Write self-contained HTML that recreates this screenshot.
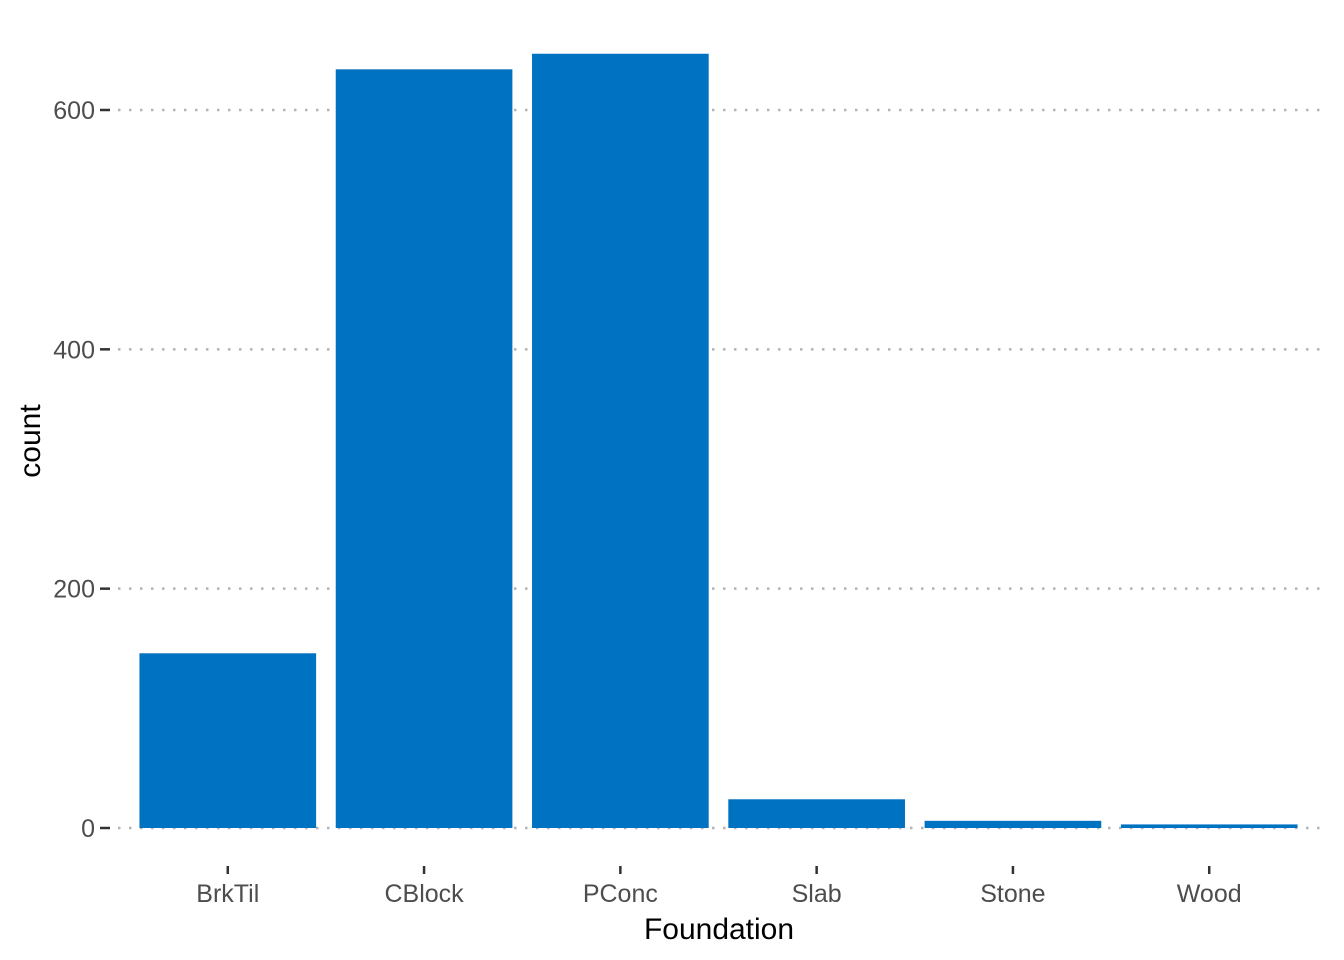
<!DOCTYPE html>
<html><head><meta charset="utf-8"><style>
body{margin:0;background:#fff}
svg{display:block;font-family:"Liberation Sans",Arial,sans-serif}
</style></head><body>
<svg id="chart" width="1344" height="960">
<g id="grid"></g>
<g id="bars"></g>
<g id="yaxis"></g>
<g id="xaxis"></g>
<text x="719" y="939" text-anchor="middle" font-size="30" fill="#000">Foundation</text>
<text transform="translate(40,441) rotate(-90)" text-anchor="middle" font-size="30" fill="#000">count</text>
</svg>
<script>
const categories = ["BrkTil","CBlock","PConc","Slab","Stone","Wood"];
const counts = [146,634,647,24,6,3];
const yTicks = [0,200,400,600];

const NS="http://www.w3.org/2000/svg";
const left=110,right=1327,y0=828,pxPerUnit=718/600;
const step=(right-left)/(categories.length+0.2);
const xc=i=>left+step*(i+0.6);
const ys=v=>y0-v*pxPerUnit;
function mk(tag,attrs,parent){const e=document.createElementNS(NS,tag);for(const k in attrs)e.setAttribute(k,attrs[k]);parent.appendChild(e);return e;}
const grid=document.getElementById('grid'),bars=document.getElementById('bars'),ya=document.getElementById('yaxis'),xa=document.getElementById('xaxis');
yTicks.forEach(t=>{
  const y=ys(t);
  const g=mk('line',{x1:left+8,x2:right,y1:y,y2:y,stroke:'#b3b3b3','stroke-width':2.5,'stroke-dasharray':'2.5 8.5'},grid);
  
  
  const tk=mk('line',{x1:100,x2:110,y1:y,y2:y,stroke:'#333','stroke-width':2.5},ya);
  
  
  const tx=mk('text',{x:95,y:y+9,'text-anchor':'end','font-size':25,fill:'#4d4d4d'},ya);
  tx.textContent=t;
  
  
});
categories.forEach((c,i)=>{
  const w=step*0.9,x=xc(i)-w/2,y=ys(counts[i]);
  const r=mk('rect',{x:x,y:y,width:w,height:y0-y,fill:'#0072c2'},bars);
  
  
  const tk=mk('line',{x1:xc(i),x2:xc(i),y1:866,y2:874,stroke:'#333','stroke-width':2.5},xa);
  
  
  const tx=mk('text',{x:xc(i),y:902,'text-anchor':'middle','font-size':25,fill:'#4d4d4d'},xa);
  tx.textContent=c;
  
  
});
</script>
</body></html>
